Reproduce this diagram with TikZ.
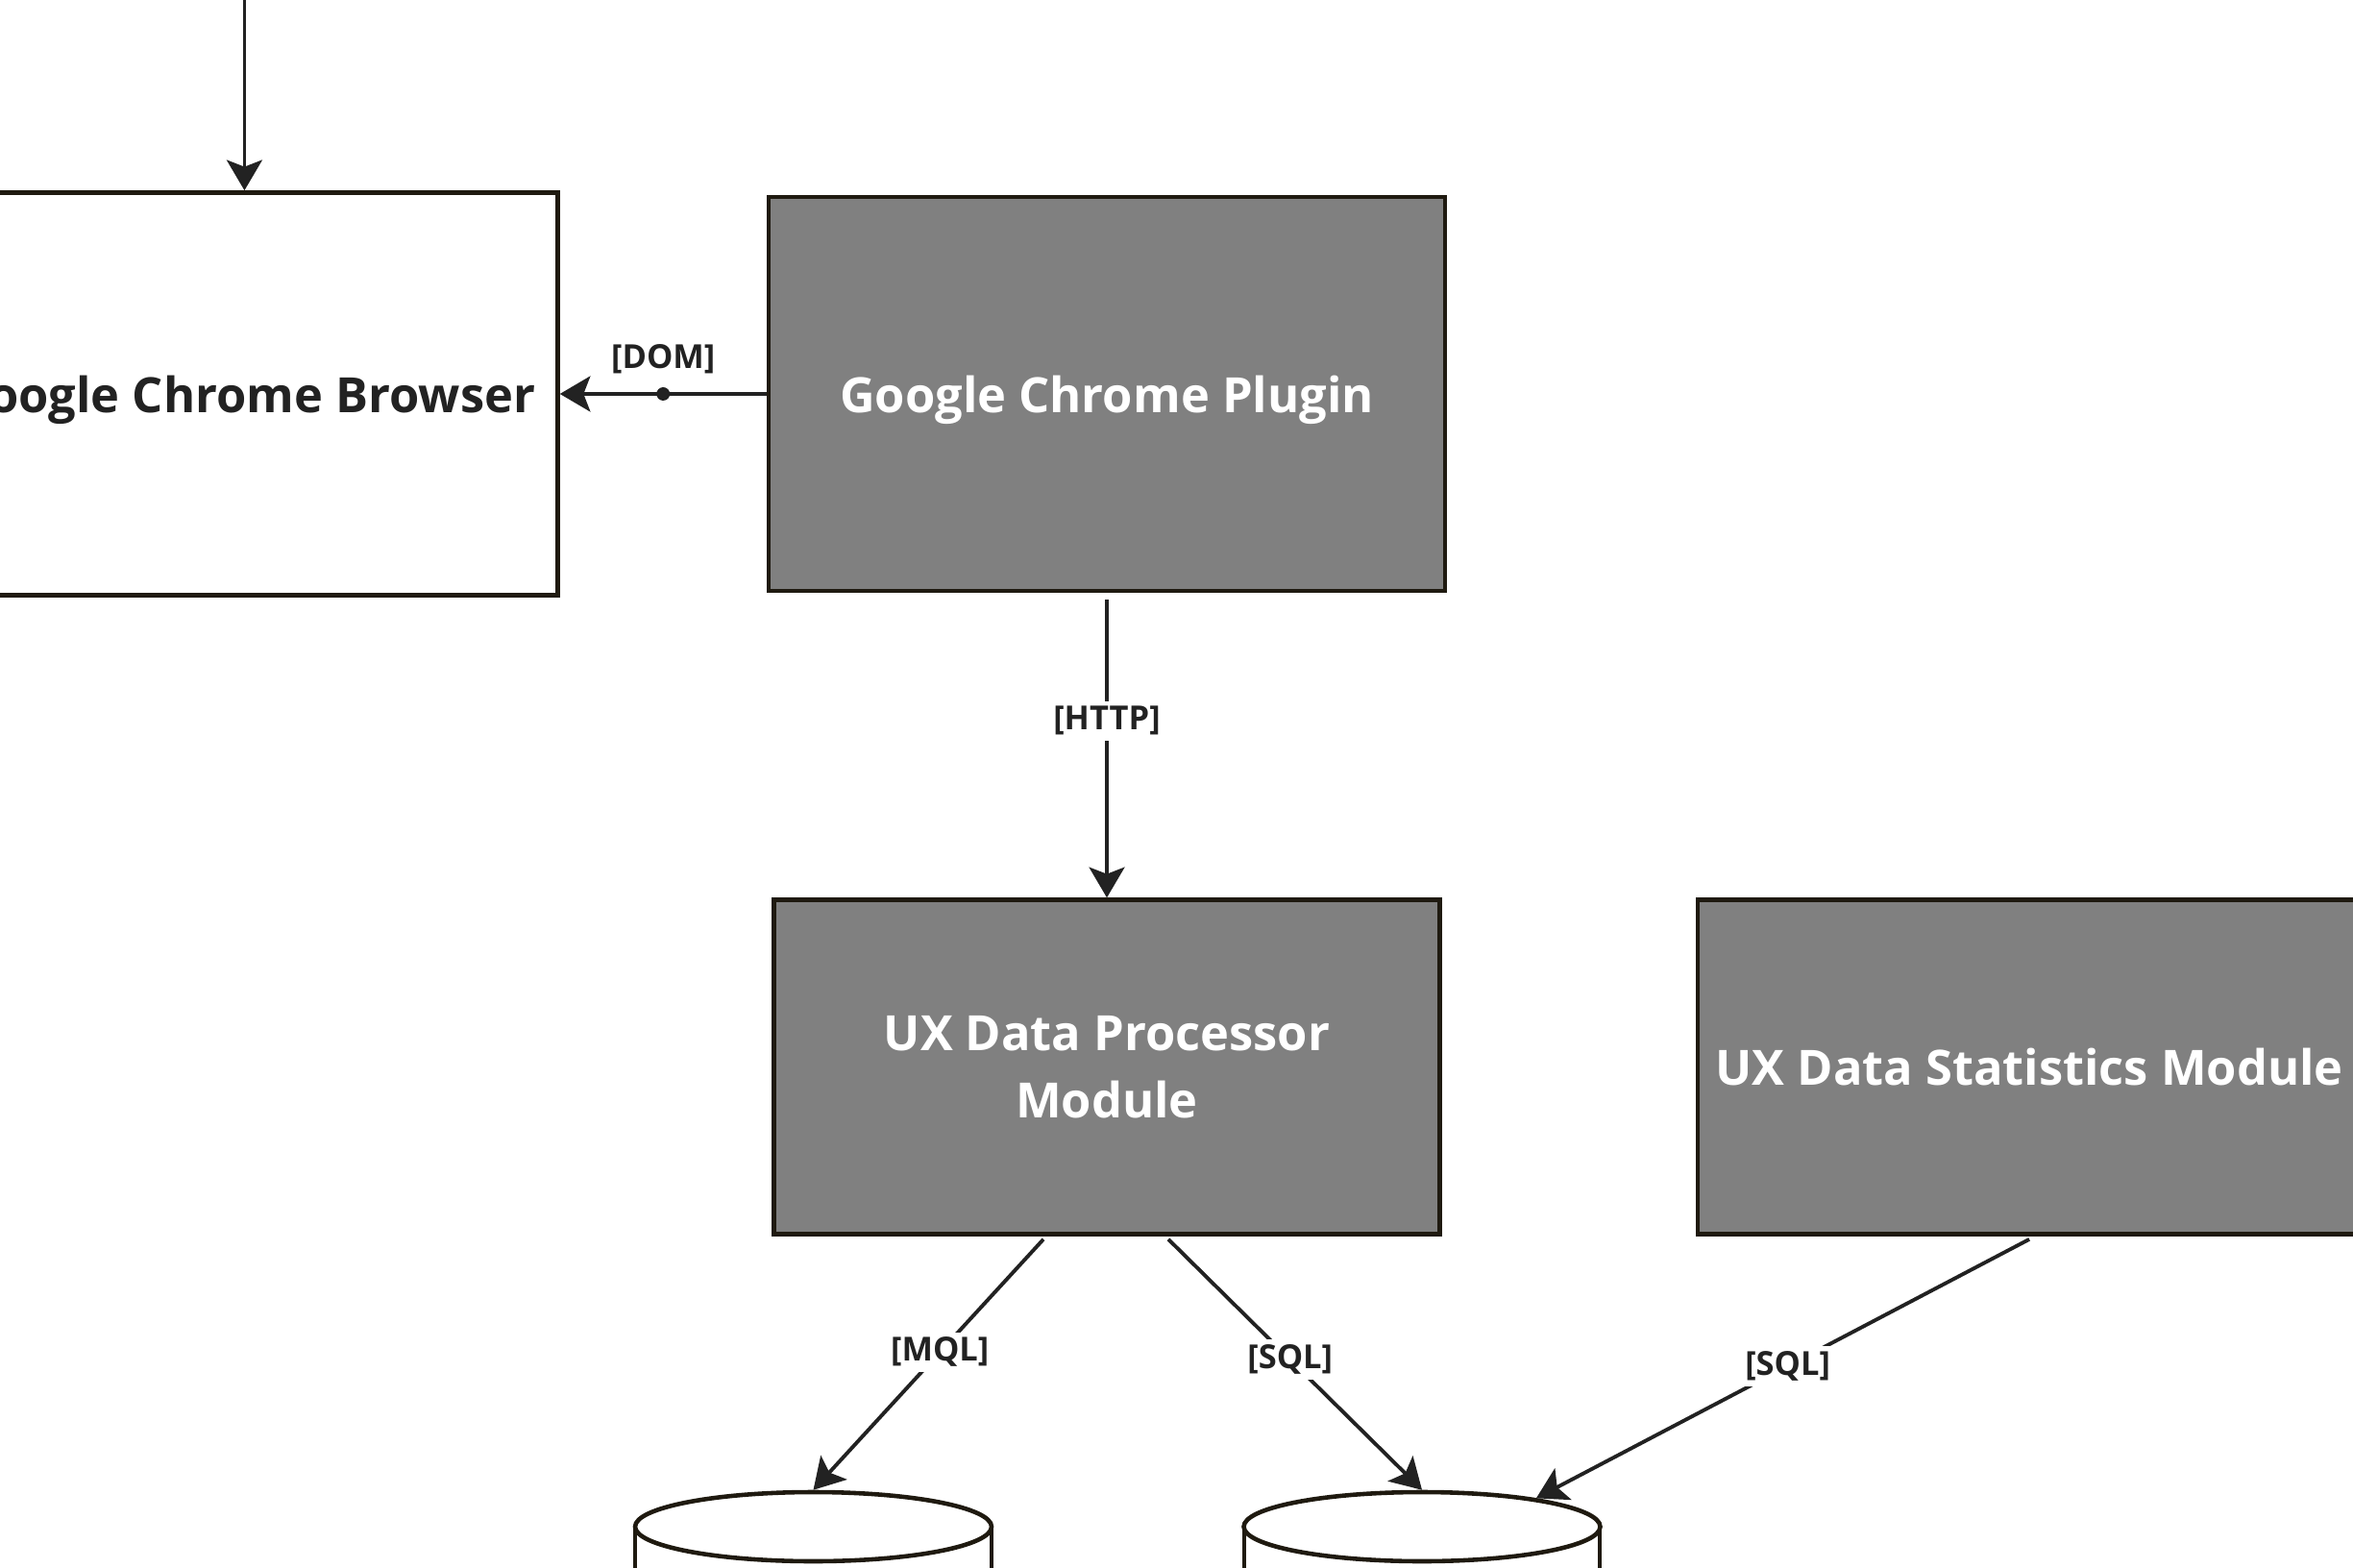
\documentclass[tikz,border=0pt]{standalone}
\usepackage{fontspec}
\setmainfont{Open Sans}
\usetikzlibrary{positioning,arrows.meta,shapes.geometric}
\definecolor{boxgray}{HTML}{808080}
\definecolor{edgeline}{HTML}{1F1A10}
\definecolor{inkdark}{HTML}{222222}
\tikzset{
  comp/.style={draw=edgeline, line width=1.3pt, fill=boxgray, text=white,
    font=\bfseries\fontsize{14.4}{20}\selectfont, align=center, inner sep=0pt, text depth=0pt},
  ext/.style={comp, fill=white, text=inkdark},
  link/.style={draw=inkdark, line width=1.1pt,
    -{Stealth[length=9pt,width=10.5pt,inset=2pt]}},
  tag/.style={fill=white, text=inkdark, font=\bfseries\fontsize{9.8}{12}\selectfont, inner sep=1.5pt},
  db/.style={ellipse, draw=edgeline, line width=1.3pt, fill=white,
    minimum width=3.71cm, minimum height=0.72cm, inner sep=0pt}
}
\begin{document}
\begin{tikzpicture}
\useasboundingbox (0,0) rectangle (24.49,-16.32);
\node[comp, minimum width=7.04cm, minimum height=4.10cm] (plugin) at (11.52,-4.10) {Google Chrome Plugin};
\node[ext, minimum width=6.52cm, minimum height=4.19cm, left=2.15cm of plugin] (browser) {Google Chrome Browser};
\node[comp, minimum width=6.93cm, minimum height=3.48cm, below=3.17cm of plugin] (proc) {UX Data Processor\\Module};
\node[comp, minimum width=6.90cm, minimum height=3.48cm, right=2.64cm of proc] (stats) {UX Data Statistics Module};
% databases, cut by the bottom edge
\draw[edgeline, line width=1.3pt] (6.61,-15.89) -- (6.61,-17) (10.32,-15.89) -- (10.32,-17);
\draw[edgeline, line width=1.3pt] (12.95,-15.89) -- (12.95,-17) (16.65,-15.89) -- (16.65,-17);
\node[db] (mongo) at (8.465,-15.89) {};
\node[db] (pg) at (14.80,-15.89) {};
\coordinate[above=2.2cm of browser.north] (user);
\draw[link] (user) -- (browser.north);
\draw[link] (plugin.west) -- node[circle, fill=inkdark, inner sep=1.4pt] {} node[tag, above=0.14cm] {[DOM]} (browser.east);
\draw[link, shorten <=2pt] (plugin.south) -- node[tag, pos=0.42] {[HTTP]} (proc.north);
\draw[link] ([xshift=-0.66cm, yshift=-0.03cm]proc.south) -- node[tag, pos=0.45] {[MQL]} (mongo.north);
\draw[link] ([xshift=0.64cm, yshift=-0.03cm]proc.south) -- node[tag, pos=0.48] {[SQL]} (pg.north);
\draw[link] ([yshift=-0.03cm]stats.south) -- node[tag, pos=0.49] {[SQL]} (pg.14);
\end{tikzpicture}
\end{document}
